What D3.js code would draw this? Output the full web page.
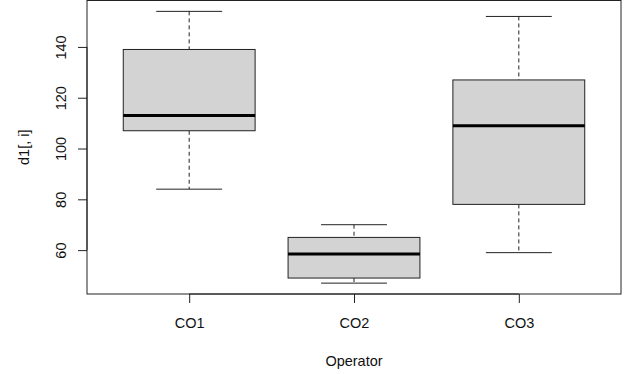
<!DOCTYPE html>
<html>
<head>
<meta charset="utf-8">
<script src="https://cdn.jsdelivr.net/npm/d3@7"></script>
<style>
  body { margin: 0; background: #fff; }
  text { font-family: "Liberation Sans", Arial, sans-serif; fill: #111; }
</style>
</head>
<body>
<div id="chart"></div>
<script>
// box statistics per operator
const operators = ["CO1", "CO2", "CO3"];
const lowWhisker = [84, 47, 59];
const q1 = [107, 49, 78];
const medians = [113, 58.5, 109];
const q3 = [139, 65, 127];
const highWhisker = [154, 70, 152];
const yTicks = [60, 80, 100, 120, 140];

const width = 626, height = 374;
const margin = { top: 0.5, right: 5, bottom: 80, left: 87 };
const plotW = width - margin.left - margin.right;
const plotH = height - margin.top - margin.bottom;

const svg = d3.select('#chart').append('svg')
  .attr('width', width)
  .attr('height', height);

const g = svg.append('g')
  .attr('transform', `translate(${margin.left}, ${margin.top})`);

// R style: range extended by 4% on each side
const lo = d3.min(lowWhisker), hi = d3.max(highWhisker);
const pad = (hi - lo) * 0.04;
const y = d3.scaleLinear().domain([lo - pad, hi + pad]).range([plotH, 0]);
const x = d3.scaleLinear().domain([0.38, operators.length + 0.62]).range([0, plotW]);

const boxes = operators.map((name, i) => ({
  name, pos: i + 1,
  lw: lowWhisker[i], q1: q1[i], med: medians[i], q3: q3[i], hw: highWhisker[i]
}));

const halfBox = x(0.4) - x(0), halfCap = x(0.2) - x(0);
const stroke = '#222';

const bg = g.selectAll('g.box').data(boxes).enter().append('g').attr('class', 'box');

// dashed whiskers
bg.append('line')
  .attr('x1', d => x(d.pos)).attr('x2', d => x(d.pos))
  .attr('y1', d => y(d.hw)).attr('y2', d => y(d.q3))
  .attr('stroke', stroke).attr('stroke-dasharray', '4,3');
bg.append('line')
  .attr('x1', d => x(d.pos)).attr('x2', d => x(d.pos))
  .attr('y1', d => y(d.q1)).attr('y2', d => y(d.lw))
  .attr('stroke', stroke).attr('stroke-dasharray', '4,3');

// whisker caps
['hw', 'lw'].forEach(k => {
  bg.append('line')
    .attr('x1', d => x(d.pos) - halfCap).attr('x2', d => x(d.pos) + halfCap)
    .attr('y1', d => y(d[k])).attr('y2', d => y(d[k]))
    .attr('stroke', stroke);
});

// boxes
bg.append('rect')
  .attr('x', d => x(d.pos) - halfBox)
  .attr('width', halfBox * 2)
  .attr('y', d => y(d.q3))
  .attr('height', d => y(d.q1) - y(d.q3))
  .attr('fill', '#d3d3d3')
  .attr('stroke', stroke);

// medians
bg.append('line')
  .attr('x1', d => x(d.pos) - halfBox).attr('x2', d => x(d.pos) + halfBox)
  .attr('y1', d => y(d.med)).attr('y2', d => y(d.med))
  .attr('stroke', '#000').attr('stroke-width', 3);

// frame
g.append('rect')
  .attr('width', plotW).attr('height', plotH)
  .attr('fill', 'none').attr('stroke', stroke);

// y axis
const yAxis = g.append('g')
  .call(d3.axisLeft(y).tickValues(yTicks).tickSize(9).tickPadding(12).tickFormat(d3.format('d')));
yAxis.select('.domain').attr('stroke', stroke)
  .attr('d', `M0,${y(yTicks[0])}V${y(yTicks[yTicks.length - 1])}`);
yAxis.selectAll('.tick line').attr('stroke', stroke);
yAxis.selectAll('.tick text')
  .attr('transform', 'rotate(-90)')
  .attr('x', 0).attr('y', -21.5).attr('dy', 0)
  .attr('text-anchor', 'middle')
  .style('font-size', '14.5px')
  .style('font-family', '"Liberation Sans", Arial, sans-serif')
  .attr('fill', '#111');

// x axis
const xAxis = g.append('g')
  .attr('transform', `translate(0, ${plotH})`)
  .call(d3.axisBottom(x).tickValues(boxes.map(d => d.pos)).tickSize(9).tickFormat((d, i) => operators[i]));
xAxis.select('.domain').attr('stroke', stroke)
  .attr('d', `M${x(1)},0H${x(operators.length)}`);
xAxis.selectAll('.tick line').attr('stroke', stroke);
xAxis.selectAll('.tick text')
  .attr('y', 34).attr('dy', 0)
  .style('font-size', '14.5px')
  .style('font-family', '"Liberation Sans", Arial, sans-serif')
  .attr('fill', '#111');

// axis titles
svg.append('text')
  .attr('x', margin.left + plotW / 2).attr('y', 365.5)
  .attr('text-anchor', 'middle')
  .style('font-size', '14.5px')
  .text('Operator');

svg.append('text')
  .attr('transform', `translate(29, ${margin.top + plotH / 2}) rotate(-90)`)
  .attr('text-anchor', 'middle')
  .style('font-size', '14.5px')
  .text('d1[, i]');
</script>
</body>
</html>
